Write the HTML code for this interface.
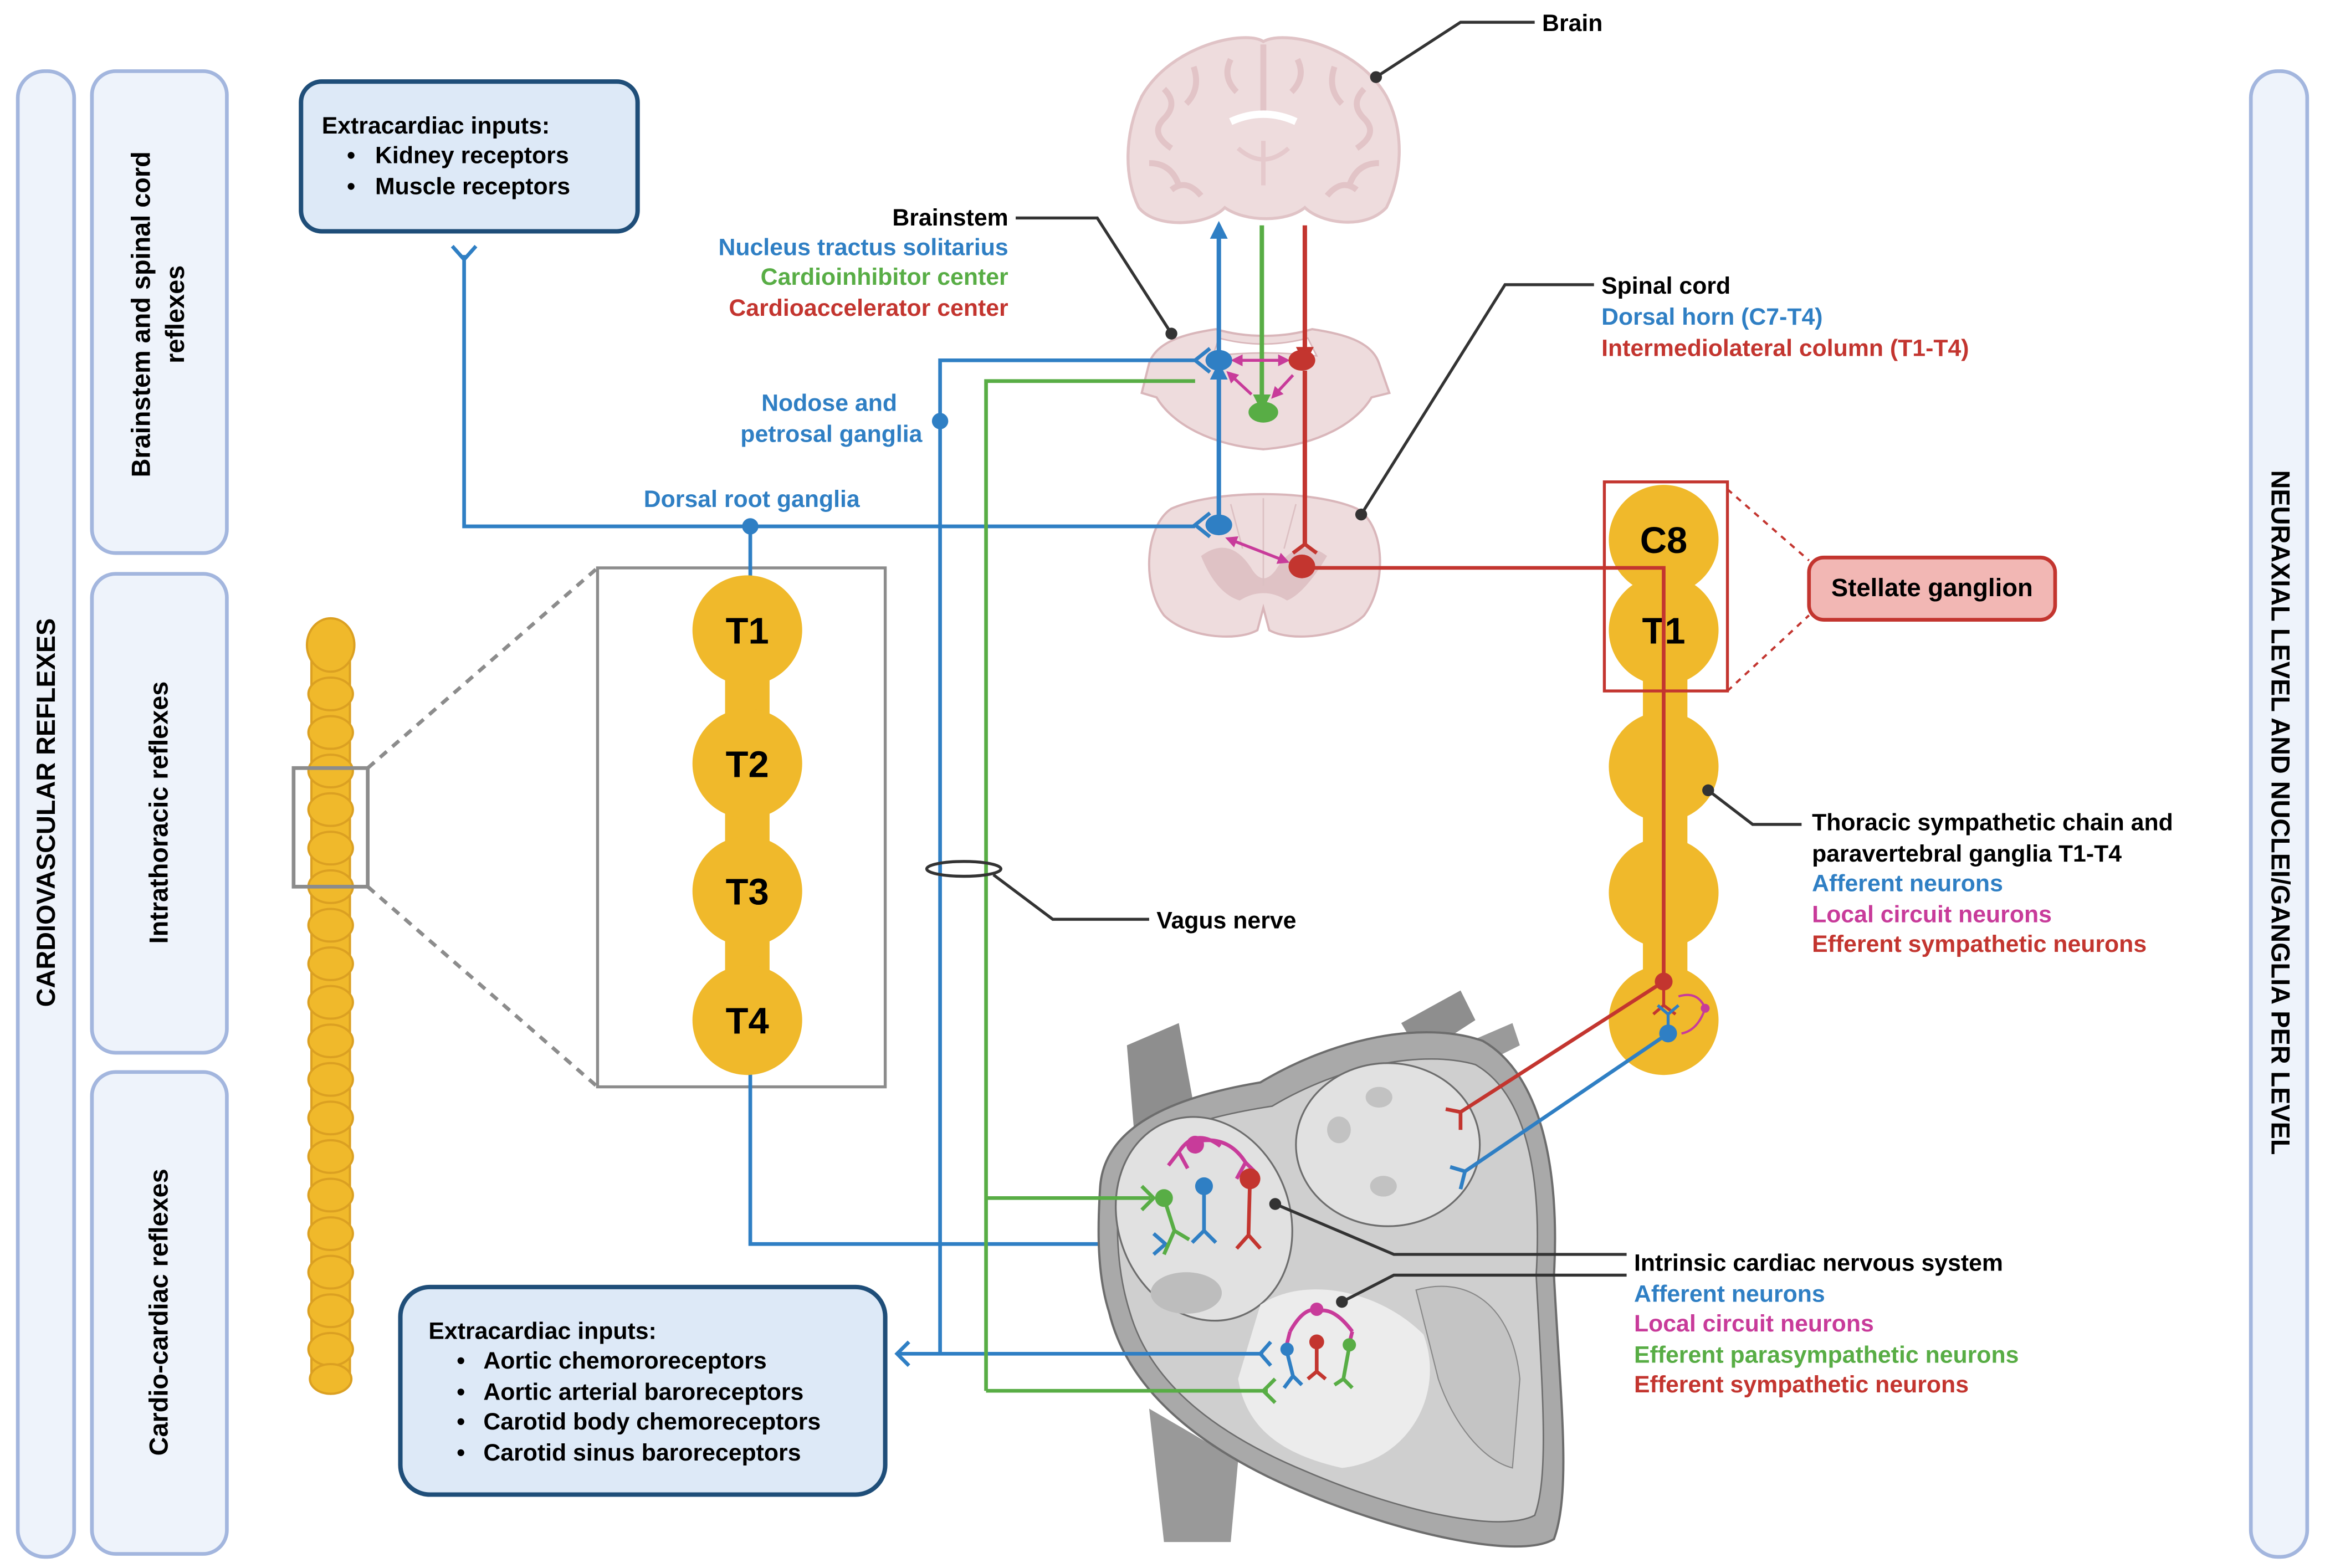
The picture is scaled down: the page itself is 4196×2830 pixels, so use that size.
<!DOCTYPE html>
<html><head><meta charset="utf-8"><style>
html,body{margin:0;padding:0;background:#fff}
svg{display:block}
text{font-family:"Liberation Sans",sans-serif;font-weight:bold}
</style></head><body>
<svg width="4196" height="2830" viewBox="0 0 1568 1057.5" preserveAspectRatio="none" xmlns="http://www.w3.org/2000/svg" font-size="16">
<defs>
<marker id="ab" viewBox="0 0 10 10" refX="5" refY="5" markerWidth="4" markerHeight="4" orient="auto-start-reverse"><path d="M0,0L10,5L0,10z" fill="#2f7fc4"/></marker>
<marker id="ag" viewBox="0 0 10 10" refX="5" refY="5" markerWidth="4" markerHeight="4" orient="auto-start-reverse"><path d="M0,0L10,5L0,10z" fill="#58ad45"/></marker>
<marker id="ar" viewBox="0 0 10 10" refX="5" refY="5" markerWidth="4" markerHeight="4" orient="auto-start-reverse"><path d="M0,0L10,5L0,10z" fill="#c3352f"/></marker>
<marker id="am" viewBox="0 0 10 10" refX="5" refY="5" markerWidth="4" markerHeight="4" orient="auto-start-reverse"><path d="M0,0L10,5L0,10z" fill="#c83b9a"/></marker>
</defs>
<g fill="#eef3fb" stroke="#a3b6de" stroke-width="2.5">
<rect x="12" y="48" width="38" height="1002" rx="18"/>
<rect x="62" y="48" width="91" height="325" rx="16"/>
<rect x="62" y="387" width="91" height="323" rx="16"/>
<rect x="62" y="723" width="91" height="325" rx="16"/>
<rect x="1518" y="48" width="38" height="1002" rx="18"/>
</g>
<g font-size="17.5">
<text transform="translate(37,548) rotate(-90)" text-anchor="middle">CARDIOVASCULAR REFLEXES</text>
<text transform="translate(101,212) rotate(-90)" text-anchor="middle">Brainstem and spinal cord</text>
<text transform="translate(124,212) rotate(-90)" text-anchor="middle">reflexes</text>
<text transform="translate(113,548) rotate(-90)" text-anchor="middle">Intrathoracic reflexes</text>
<text transform="translate(113,885) rotate(-90)" text-anchor="middle">Cardio-cardiac reflexes</text>
<text transform="translate(1532,548) rotate(90)" text-anchor="middle">NEURAXIAL LEVEL AND NUCLEI/GANGLIA PER LEVEL</text>
</g>

<rect x="203" y="55" width="227" height="101" rx="14" fill="#dde9f7" stroke="#1f4e79" stroke-width="3"/>
<text x="217" y="90">Extracardiac inputs:</text>
<text x="234" y="110">•</text><text x="253" y="110">Kidney receptors</text>
<text x="234" y="131">•</text><text x="253" y="131">Muscle receptors</text>
<rect x="270" y="868" width="327" height="140" rx="20" fill="#dde9f7" stroke="#1f4e79" stroke-width="3"/>
<text x="289" y="903">Extracardiac inputs:</text>
<text x="308" y="923">•</text><text x="326" y="923">Aortic chemororeceptors</text>
<text x="308" y="944">•</text><text x="326" y="944">Aortic arterial baroreceptors</text>
<text x="308" y="964">•</text><text x="326" y="964">Carotid body chemoreceptors</text>
<text x="308" y="985">•</text><text x="326" y="985">Carotid sinus baroreceptors</text>

<g fill="#f0b92b" stroke="#dba022" stroke-width="1.5">
<rect x="210" y="420" width="26" height="520" rx="13"/>
<ellipse cx="223" cy="435" rx="16" ry="18"/>
<ellipse cx="223" cy="468" rx="15" ry="11"/><ellipse cx="223" cy="494" rx="15" ry="11"/><ellipse cx="223" cy="520" rx="15" ry="11"/><ellipse cx="223" cy="546" rx="15" ry="11"/><ellipse cx="223" cy="572" rx="15" ry="11"/><ellipse cx="223" cy="598" rx="15" ry="11"/><ellipse cx="223" cy="624" rx="15" ry="11"/><ellipse cx="223" cy="650" rx="15" ry="11"/><ellipse cx="223" cy="676" rx="15" ry="11"/><ellipse cx="223" cy="702" rx="15" ry="11"/><ellipse cx="223" cy="728" rx="15" ry="11"/><ellipse cx="223" cy="754" rx="15" ry="11"/><ellipse cx="223" cy="780" rx="15" ry="11"/><ellipse cx="223" cy="806" rx="15" ry="11"/><ellipse cx="223" cy="832" rx="15" ry="11"/><ellipse cx="223" cy="858" rx="15" ry="11"/><ellipse cx="223" cy="884" rx="15" ry="11"/><ellipse cx="223" cy="910" rx="15" ry="11"/><ellipse cx="223" cy="930" rx="14" ry="10"/>
</g>
<rect x="198" y="518" width="50" height="80" fill="none" stroke="#8c8c8c" stroke-width="2.5"/>
<path d="M248,518 L403,383 M248,598 L403,733" stroke="#8c8c8c" stroke-width="2.5" stroke-dasharray="6,5"/>
<rect x="403" y="383" width="194" height="350" fill="none" stroke="#8c8c8c" stroke-width="2"/>

<!-- blue line behind chain -->
<path d="M506,355 V839 H778" fill="none" stroke="#2f7fc4" stroke-width="2.5"/>
<g fill="#f0b92b">
<rect x="489" y="425" width="30" height="263"/>
<circle cx="504" cy="425" r="37"/><circle cx="504" cy="515" r="37"/><circle cx="504" cy="601" r="37"/><circle cx="504" cy="688" r="37"/>
</g>
<g font-size="25" text-anchor="middle">
<text x="504" y="434">T1</text><text x="504" y="524">T2</text><text x="504" y="610">T3</text><text x="504" y="697">T4</text>
</g>

<g fill="#f0b92b">
<rect x="1108" y="364" width="30" height="324"/>
<circle cx="1122" cy="364" r="37"/><circle cx="1122" cy="425" r="37"/><circle cx="1122" cy="517" r="37"/><circle cx="1122" cy="602" r="37"/><circle cx="1122" cy="688" r="37"/>
</g>
<g font-size="25" text-anchor="middle"><text x="1122" y="373">C8</text><text x="1122" y="434">T1</text></g>
<rect x="1082" y="325" width="83" height="141" fill="none" stroke="#c3352f" stroke-width="2"/>
<path d="M1165,330 L1220,378 M1165,466 L1220,415" stroke="#c3352f" stroke-width="1.5" stroke-dasharray="4,4"/>
<rect x="1220" y="376" width="166" height="42" rx="10" fill="#f2b7b4" stroke="#c3352f" stroke-width="2.5"/>
<text x="1303" y="402" text-anchor="middle" font-size="17">Stellate ganglion</text>

<!-- brain -->
<path d="M770,65 C790,30 840,20 852,28 C866,20 915,30 935,65 C948,90 945,120 935,140 C920,156 890,150 880,140 C868,150 840,150 826,140 C815,152 780,155 768,140 C758,120 758,90 770,65Z" fill="#eedcdd" stroke="#e0c3c6" stroke-width="2"/>
<g fill="none" stroke="#e2c4c7" stroke-width="4">
<path d="M785,60 q10,10 0,20 q-10,10 5,20 M805,45 q5,15 -5,25 M830,40 q-6,12 4,22 M875,40 q6,12 -4,22 M900,45 q-5,15 5,25 M920,60 q-10,10 0,20 q10,10 -5,20 M775,110 q15,0 20,15 M930,110 q-15,0 -20,15 M852,30 v45 M790,128 q10,-8 20,4 M915,128 q-10,-8 -20,4"/>
<path d="M830,82 q22,-10 44,0" stroke="#fff" stroke-width="5"/>
<path d="M835,100 q17,15 34,0 M852,95 v30" stroke="#e5c9cc" stroke-width="3"/>
</g>
<!-- brainstem -->
<path d="M775,245 C780,230 800,225 820,222 C840,228 865,228 885,222 C905,225 925,230 930,245 L937,265 L925,268 C915,285 890,300 852,303 C815,300 790,285 780,268 L770,265Z" fill="#eedcdd" stroke="#d9b6ba" stroke-width="1.5"/>
<path d="M822,228 Q852,236 882,228 L888,240 Q852,236 818,240Z" fill="#fff" stroke="#d9b6ba"/>
<!-- spinal cord -->
<path d="M790,343 C820,330 885,330 915,343 C935,355 935,395 920,415 C905,430 870,433 856,425 L852,410 L848,425 C834,433 800,430 785,415 C770,395 772,355 790,343Z" fill="#eedcdd" stroke="#d9b6ba" stroke-width="1.5"/>
<path d="M810,375 Q830,360 845,385 Q852,395 860,385 Q875,360 895,375 Q880,400 868,405 Q852,395 836,405 Q820,400 810,375Z" fill="#dfc2c5"/>
<path d="M830,340 L838,370 M874,340 L866,370 M852,336 V395" stroke="#dcc0c3" stroke-width="1"/>

<!-- heart -->
<path d="M760,705 L795,690 L805,745 L765,765Z" fill="#8e8e8e"/>
<path d="M945,690 L985,668 L995,688 L958,712Z" fill="#8e8e8e"/>
<path d="M985,705 L1020,690 L1025,705 L995,720Z" fill="#9a9a9a"/>
<path d="M775,950 L835,985 L830,1040 L785,1040Z" fill="#999"/>
<path d="M742,800 C745,760 790,740 850,730 C900,700 960,688 1000,702 C1040,725 1052,790 1048,860 C1052,940 1060,1005 1048,1038 C1025,1052 945,1035 875,1005 C805,975 760,935 748,885 C740,860 740,830 742,800Z" fill="#a9a9a9" stroke="#6d6d6d" stroke-width="1.5"/>
<path d="M755,805 C758,770 800,755 858,746 C905,718 960,708 995,718 C1030,738 1040,795 1036,860 C1040,935 1045,995 1035,1022 C1012,1034 945,1020 880,992 C815,965 775,930 762,885 C754,860 752,830 755,805Z" fill="#cfcfcf" stroke="#6d6d6d" stroke-width="1"/>
<ellipse cx="936" cy="772" rx="62" ry="55" fill="#e1e1e1" stroke="#6d6d6d" stroke-width="1.2"/>
<ellipse cx="812" cy="822" rx="58" ry="70" transform="rotate(-20 812 822)" fill="#e1e1e1" stroke="#6d6d6d" stroke-width="1.2"/>
<path d="M850,880 C880,860 930,870 960,900 C975,940 950,985 905,990 C860,980 840,960 835,930Z" fill="#ececec"/>
<path d="M955,870 C990,860 1020,880 1025,930 L1020,990 C1000,985 980,960 970,930Z" fill="#c4c4c4" stroke="#888" stroke-width="0.8"/>
<ellipse cx="800" cy="872" rx="24" ry="14" fill="#bdbdbd"/>
<ellipse cx="930" cy="740" rx="9" ry="7" fill="#c2c2c2"/><ellipse cx="903" cy="762" rx="8" ry="9" fill="#c2c2c2"/><ellipse cx="933" cy="800" rx="9" ry="7" fill="#c2c2c2"/>

<!-- neural lines -->
<g fill="none" stroke-width="2.5">
<path d="M313,172 V355 H806" stroke="#2f7fc4"/>
<path d="M305,166 L313,175 L321,166" stroke="#2f7fc4"/>
<path d="M605,913 H852 M634,913 V243 H806" stroke="#2f7fc4"/>
<path d="M665,938 V257 H806 M665,808 H776 M665,938 H855" stroke="#58ad45"/>
<path d="M880,383 H1122 V662 L985,750" stroke="#c3352f"/>
<path d="M1125,697 L988,790" stroke="#2f7fc4"/>
<path d="M822,243 V155" stroke="#2f7fc4" stroke-width="3" marker-end="url(#ab)"/>
<path d="M822,354 V250" stroke="#2f7fc4" stroke-width="3" marker-end="url(#ab)"/>
<path d="M851,152 V272" stroke="#58ad45" stroke-width="3" marker-end="url(#ag)"/>
<path d="M880,152 V240" stroke="#c3352f" stroke-width="3" marker-end="url(#ar)"/>
<path d="M880,250 V368" stroke="#c3352f" stroke-width="3"/>
<path d="M872,373 L880,367 L888,373" stroke="#c3352f" stroke-width="2.5"/>
<path d="M834,243 H866" stroke="#c83b9a" stroke-width="2" marker-start="url(#am)" marker-end="url(#am)"/>
<path d="M830,253 L844,266 M872,253 L860,266" stroke="#c83b9a" stroke-width="2" marker-start="url(#am)" marker-end="url(#am)"/>
<path d="M830,364 L866,378" stroke="#c83b9a" stroke-width="2" marker-start="url(#am)" marker-end="url(#am)"/>
<path d="M816,235 L806,243 L816,251 M816,346 L806,354 L816,362" stroke="#2f7fc4"/>
<path d="M613,905 L605,913 L613,921" stroke="#2f7fc4"/>
<path d="M770,800 L778,808 L770,816" stroke="#58ad45"/>
<path d="M778,832 L786,839 L778,846" stroke="#2f7fc4"/>
<path d="M795,777 Q806,760 823,773 M806,770 Q828,765 840,784 M795,777 L788,786 M795,777 L801,788 M840,784 L834,795 M840,784 L846,790" stroke="#c83b9a"/>
<path d="M785,808 L792,830 L785,846 M792,830 L802,836" stroke="#58ad45"/>
<path d="M812,800 L812,830 L804,838 M812,830 L820,838" stroke="#2f7fc4"/>
<path d="M843,795 L842,833 L834,842 M842,833 L850,842" stroke="#c3352f"/>
<path d="M985,750 L985,762 M975,748 L985,750" stroke="#c3352f"/>
<path d="M988,790 L985,802 M978,787 L988,790" stroke="#2f7fc4"/>
<path d="M857,905 L850,913 L857,921" stroke="#2f7fc4"/>
<path d="M860,930 L852,938 L860,946" stroke="#58ad45"/>
<path d="M870,898 Q880,880 890,884 Q900,882 912,898 M870,898 L868,906 M912,898 L910,906" stroke="#c83b9a"/>
<path d="M868,912 L872,928 L866,936 M872,928 L878,934" stroke="#2f7fc4"/>
<path d="M888,905 L888,925 L882,930 M888,925 L894,930" stroke="#c3352f"/>
<path d="M910,908 L906,930 L900,934 M906,930 L912,936" stroke="#58ad45"/>
<path d="M1122,662 L1122,678 L1115,684 M1122,678 L1130,684" stroke="#c3352f" stroke-width="2"/>
<path d="M1125,697 L1125,684 M1125,684 L1118,678 M1125,684 L1132,678" stroke="#2f7fc4" stroke-width="2"/>
<path d="M1132,672 Q1145,668 1150,680 Q1145,695 1134,697" stroke="#c83b9a" stroke-width="1.5"/>
</g>
<ellipse cx="822" cy="243" rx="9" ry="7" fill="#2f7fc4"/>
<ellipse cx="878" cy="243" rx="9" ry="7" fill="#c3352f"/>
<ellipse cx="852" cy="278" rx="10" ry="7" fill="#58ad45"/>
<ellipse cx="822" cy="354" rx="9" ry="7" fill="#2f7fc4"/>
<ellipse cx="878" cy="382" rx="9" ry="8" fill="#c3352f"/>
<circle cx="506" cy="355" r="5.5" fill="#2f7fc4"/>
<circle cx="634" cy="284" r="5.5" fill="#2f7fc4"/>
<circle cx="806" cy="772" r="6" fill="#c83b9a"/>
<circle cx="785" cy="808" r="6" fill="#58ad45"/>
<circle cx="812" cy="800" r="6" fill="#2f7fc4"/>
<circle cx="843" cy="795" r="7" fill="#c3352f"/>
<circle cx="888" cy="883" r="4.5" fill="#c83b9a"/>
<circle cx="868" cy="910" r="4.5" fill="#2f7fc4"/>
<circle cx="888" cy="905" r="5" fill="#c3352f"/>
<circle cx="910" cy="907" r="4.5" fill="#58ad45"/>
<circle cx="1122" cy="662" r="6" fill="#c3352f"/>
<circle cx="1125" cy="697" r="6" fill="#2f7fc4"/>
<circle cx="1150" cy="680" r="3" fill="#c83b9a"/>

<g fill="none" stroke="#333" stroke-width="2">
<path d="M928,52 L985,15 L1035,15"/>
<path d="M685,147 L740,147 L790,225"/>
<path d="M1075,192 L1015,192 L918,347"/>
<path d="M1152,533 L1182,556 L1215,556"/>
<path d="M670,590 L710,620 L775,620"/>
<ellipse cx="650" cy="586" rx="25" ry="5"/>
<path d="M860,812 L940,846 L1097,846 M905,878 L940,860 L1097,860"/>
</g>
<g fill="#333"><circle cx="928" cy="52" r="4"/><circle cx="790" cy="225" r="4"/><circle cx="918" cy="347" r="4"/><circle cx="1152" cy="533" r="4"/><circle cx="860" cy="812" r="4"/><circle cx="905" cy="878" r="4"/></g>

<text x="1040" y="21">Brain</text>
<g text-anchor="end">
<text x="680" y="152">Brainstem</text>
<text x="680" y="172" fill="#2f7fc4">Nucleus tractus solitarius</text>
<text x="680" y="192" fill="#58ad45">Cardioinhibitor center</text>
<text x="680" y="213" fill="#c3352f">Cardioaccelerator center</text>
<text x="605" y="277" fill="#2f7fc4">Nodose and</text>
<text x="622" y="298" fill="#2f7fc4">petrosal ganglia</text>
</g>
<text x="507" y="342" text-anchor="middle" fill="#2f7fc4">Dorsal root ganglia</text>
<text x="1080" y="198">Spinal cord</text>
<text x="1080" y="219" fill="#2f7fc4">Dorsal horn (C7-T4)</text>
<text x="1080" y="240" fill="#c3352f">Intermediolateral column (T1-T4)</text>
<text x="1222" y="560">Thoracic sympathetic chain and</text>
<text x="1222" y="581">paravertebral ganglia T1-T4</text>
<text x="1222" y="601" fill="#2f7fc4">Afferent neurons</text>
<text x="1222" y="622" fill="#c83b9a">Local circuit neurons</text>
<text x="1222" y="642" fill="#c3352f">Efferent sympathetic neurons</text>
<text x="780" y="626">Vagus nerve</text>
<text x="1102" y="857">Intrinsic cardiac nervous system</text>
<text x="1102" y="878" fill="#2f7fc4">Afferent neurons</text>
<text x="1102" y="898" fill="#c83b9a">Local circuit neurons</text>
<text x="1102" y="919" fill="#58ad45">Efferent parasympathetic neurons</text>
<text x="1102" y="939" fill="#c3352f">Efferent sympathetic neurons</text>
</svg>
</body></html>
